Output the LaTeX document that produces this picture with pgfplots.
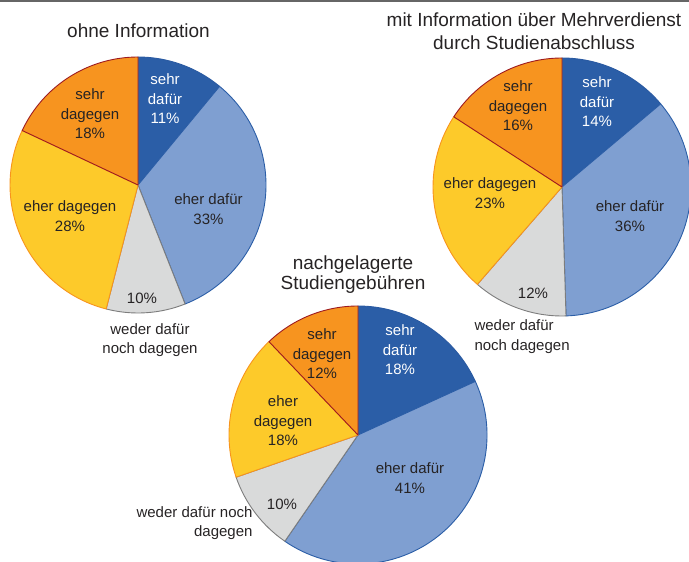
\documentclass[border=0pt]{standalone}
\usepackage{pgfplots}
\pgfplotsset{compat=1.18}
\usepackage{pgfplotstable}
\usepackage{fontspec}
\setmainfont{Liberation Sans}

\definecolor{sdafuer}{HTML}{2B5EA7}
\definecolor{sdafuerE}{HTML}{2A5AA2}
\definecolor{edafuer}{HTML}{7F9FD1}
\definecolor{edafuerE}{HTML}{2B5EA7}
\definecolor{weder}{HTML}{D9DADA}
\definecolor{wederE}{HTML}{7D7D7D}
\definecolor{edagegen}{HTML}{FDCA2A}
\definecolor{edagegenE}{HTML}{F7941D}
\definecolor{sdagegen}{HTML}{F7941F}
\definecolor{sdagegenE}{HTML}{9E1B20}
\definecolor{txt}{HTML}{262324}

% Anteile in Prozent, im Uhrzeigersinn ab 12 Uhr
\pgfplotstableread{
anteil farbe
11 sdafuer
33 edafuer
10 weder
28 edagegen
18 sdagegen
}\ohne
\pgfplotstableread{
anteil farbe
14 sdafuer
36 edafuer
12 weder
23 edagegen
16 sdagegen
}\mitinfo
\pgfplotstableread{
anteil farbe
18 sdafuer
41 edafuer
10 weder
18 edagegen
12 sdagegen
}\nachgelagert

\newcommand\lab{\fontsize{15}{19.5}\selectfont}
\newcommand\ttl{\fontsize{19}{23}\selectfont}

% #1 Tabelle, #2 #3 Mittelpunkt, #4 Radius
\newcommand\drawpie[4]{%
  \pgfplotstablegetrowsof{#1}%
  \pgfmathtruncatemacro\lastrow{\pgfplotsretval-1}%
  \def\pietotal{0}%
  \pgfplotsforeachungrouped \i in {0,...,\lastrow}{%
    \pgfplotstablegetelem{\i}{anteil}\of{#1}%
    \pgfmathsetmacro\pietotal{\pietotal+\pgfplotsretval}%
  }%
  \def\pieangle{90}%
  \pgfplotsforeachungrouped \i in {0,...,\lastrow}{%
    \pgfplotstablegetelem{\i}{anteil}\of{#1}%
    \pgfmathsetmacro\pieend{\pieangle-360*\pgfplotsretval/\pietotal}%
    \pgfplotstablegetelem{\i}{farbe}\of{#1}%
    \edef\tmp{\noexpand\filldraw[fill=\pgfplotsretval, draw=\pgfplotsretval E, line width=0.9pt, line join=round]
      (axis cs:#2,#3) -- ++(\pieangle:#4pt) arc[start angle=\pieangle, end angle=\pieend, radius=#4pt] -- cycle;}%
    \tmp
    \let\pieangle\pieend
  }%
}

\begin{document}
\begin{tikzpicture}
\begin{axis}[
    name=ax,
    scale only axis,
    width=689pt, height=562pt,
    xmin=0, xmax=689, ymin=0, ymax=562,
    hide axis,
]
\draw[color=black!60, line width=2pt] (axis cs:0,561) -- (axis cs:689,561);

\drawpie{\ohne}{138}{377}{128}
\drawpie{\mitinfo}{562}{375}{129}
\drawpie{\nachgelagert}{358}{127}{129}

% ohne Information
\node[font=\ttl, text=txt] at (axis cs:138.5,531) {ohne Information};
\node[font=\lab, text=white, align=center] at (axis cs:165,463) {sehr\\dafür\\11\%};
\node[font=\lab, text=txt, align=center] at (axis cs:208.5,353) {eher dafür\\33\%};
\node[font=\lab, text=txt] at (axis cs:142,264) {10\%};
\node[font=\lab, text=txt, align=center] at (axis cs:150,222) {weder dafür\\noch dagegen};
\node[font=\lab, text=txt, align=center] at (axis cs:70,346) {eher dagegen\\28\%};
\node[font=\lab, text=txt, align=center] at (axis cs:90,448) {sehr\\dagegen\\18\%};

% mit Information
\node[font=\ttl, text=txt, align=center] at (axis cs:534,530.5) {mit Information über Mehrverdienst\\durch Studienabschluss};
\node[font=\lab, text=white, align=center] at (axis cs:597,460) {sehr\\dafür\\14\%};
\node[font=\lab, text=txt, align=center] at (axis cs:630,346) {eher dafür\\36\%};
\node[font=\lab, text=txt] at (axis cs:533,269) {12\%};
\node[font=\lab, text=txt, align=left, anchor=west] at (axis cs:471,225.5) {weder dafür\\noch dagegen};
\node[font=\lab, text=txt, align=center] at (axis cs:490,369) {eher dagegen\\23\%};
\node[font=\lab, text=txt, align=center] at (axis cs:518,456) {sehr\\dagegen\\16\%};

% nachgelagerte Studiengebuehren
\node[font=\fontsize{19}{20.5}\selectfont, text=txt, align=center] at (axis cs:353,287.5) {nachgelagerte\\Studiengebühren};
\node[font=\lab, text=white, align=center] at (axis cs:400,212) {sehr\\dafür\\18\%};
\node[font=\lab, text=txt, align=center] at (axis cs:410,84) {eher dafür\\41\%};
\node[font=\lab, text=txt] at (axis cs:282,58) {10\%};
\node[font=\lab, text=txt, align=right, anchor=east] at (axis cs:256,39) {weder dafür noch\\dagegen};
\node[font=\lab, text=txt, align=center] at (axis cs:283,141) {eher\\dagegen\\18\%};
\node[font=\lab, text=txt, align=center] at (axis cs:322,208) {sehr\\dagegen\\12\%};
\end{axis}
\pgfresetboundingbox
\useasboundingbox (ax.south west) rectangle (ax.north east);
\end{tikzpicture}
\end{document}
